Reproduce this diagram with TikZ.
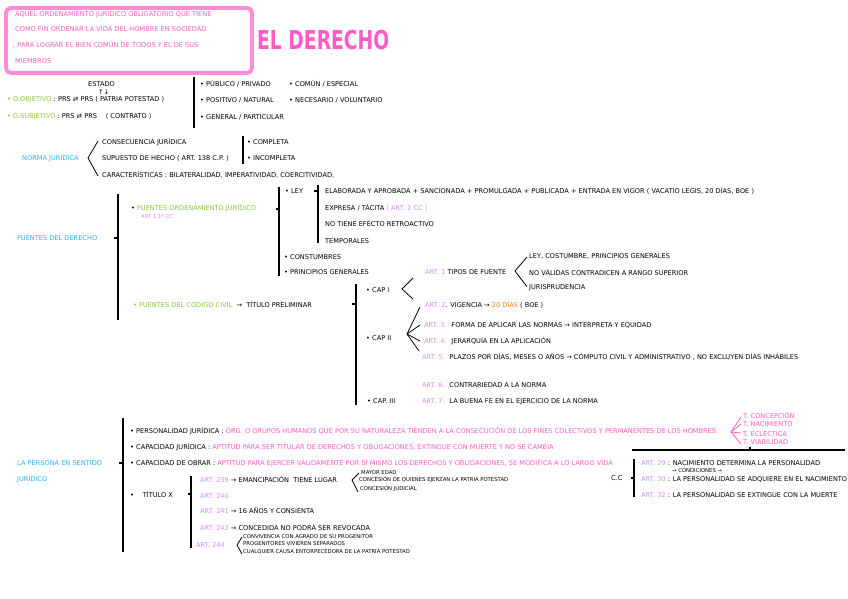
\documentclass[tikz,border=0pt]{standalone}
\usepackage{fontspec}
\setmainfont{DejaVu Sans}
\usepackage{graphicx}
\definecolor{pk}{HTML}{FF5CC8}
\definecolor{pkbox}{HTML}{FF8ED4}
\definecolor{gr}{HTML}{8CC63F}
\definecolor{cy}{HTML}{2BB5F0}
\definecolor{vi}{HTML}{D88CF2}
\definecolor{orng}{HTML}{FF7A21}
\newcommand\myfs{\fontsize{6.6}{7.5}\selectfont}
\newcommand\mysm{\fontsize{5.3}{6}\selectfont}
\begin{document}
\begin{tikzpicture}[x=1pt,y=-1pt,
  txt/.style={anchor=west,inner sep=0pt,font=\myfs},
  smt/.style={anchor=west,inner sep=0pt,font=\mysm},
  bar/.style={line width=1.1pt},
  brc/.style={line width=0.8pt},
  tck/.style={line width=1.4pt}]
\useasboundingbox (0,0) rectangle (848,599);
\fill[white] (0,0) rectangle (848,599);

% definition box
\node[draw=pkbox, line width=4pt, rounded corners=5pt, minimum width=246pt, minimum height=65pt, anchor=north west, inner sep=0pt] (box) at (4,6) {};
\node[txt,text=pk] (d1) at (15,14) {AQUEL ORDENAMIENTO JURÍDICO OBLIGATORIO QUE TIENE};
\node[txt,text=pk] (d2) at (15,29) {COMO FIN ORDENAR LA VIDA DEL HOMBRE EN SOCIEDAD};
\node[txt,text=pk] (d3) at (13,45) {, PARA LOGRAR EL BIEN COMÚN DE TODOS Y EL DE SUS};
\node[txt,text=pk] (d4) at (15,61) {MIEMBROS};

\node[anchor=west,inner sep=0pt,text=pk,font=\fontsize{26}{26}\selectfont\bfseries] (title) at (257,40) {\scalebox{0.72}[1]{EL DERECHO}};

% objetivo / subjetivo
\node[txt] (estado) at (88,84) {ESTADO};
\node[txt] (updn) at (98,92) {↑↓};
\node[txt] (obj) at (7,100) {\textcolor{gr}{• O.OBJETIVO} : PRS ⇄ PRS ( PATRIA POTESTAD )};
\node[txt] (subj) at (7,117) {\textcolor{gr}{• O.SUBJETIVO} : PRS ⇄ PRS \quad ( CONTRATO )};
\coordinate (v1t) at (194,77); \coordinate (v1b) at (194,128);
\draw[bar] (v1t) -- (v1b);
\node[txt] (pub) at (200,84) {• PÚBLICO / PRIVADO};
\node[txt] (pos) at (200,100) {• POSITIVO / NATURAL};
\node[txt] (gen) at (200,117) {• GENERAL / PARTICULAR};
\node[txt] (com) at (289,84) {• COMÚN / ESPECIAL};
\node[txt] (nec) at (289,100) {• NECESARIO / VOLUNTARIO};

% norma juridica
\node[txt,text=cy] (norma) at (22,158) {NORMA JURÍDICA};
\node[txt] (cons) at (102,142) {CONSECUENCIA JURÍDICA};
\node[txt] (sup) at (102,158) {SUPUESTO DE HECHO ( ART. 138 C.P. )};
\node[txt] (car) at (102,175) {CARACTERÍSTICAS : BILATERALIDAD, IMPERATIVIDAD, COERCITIVIDAD,};
\coordinate (nb) at (88,158);
\draw[brc] ([xshift=-4pt,yshift=1pt]cons.west) -- (nb) -- ([xshift=-4pt,yshift=-1pt]car.west);
\coordinate (v2t) at (243,136); \coordinate (v2b) at (243,164);
\draw[bar] (v2t) -- (v2b);
\node[txt] (compl) at (247,142) {• COMPLETA};
\node[txt] (incompl) at (247,158) {• INCOMPLETA};

% fuentes del derecho
\node[txt,text=cy] (fuentes) at (17,238) {FUENTES DEL DERECHO};
\coordinate (v3t) at (118,194); \coordinate (v3b) at (118,320); \coordinate (v3m) at (118,238);
\draw[bar] (v3t) -- (v3b);
\draw[tck] ([xshift=-4pt]v3m) -- (v3m);
\node[txt] (foj) at (131,208) {• \textcolor{gr}{FUENTES ORDENAMIENTO JURÍDICO}};
\node[smt,text=vi] (art11) at (141,217) {ART 1.1º CC};
\coordinate (v4t) at (279,187); \coordinate (v4b) at (279,276); \coordinate (v4m) at (279,209);
\draw[bar] (v4t) -- (v4b);
\draw[tck] ([xshift=-3pt]v4m) -- (v4m);
\node[txt] (ley) at (285,191) {• LEY};
\coordinate (v5t) at (318,185); \coordinate (v5b) at (318,243); \coordinate (v5m) at (318,191);
\draw[bar] (v5t) -- (v5b);
\draw[tck] ([xshift=-4pt]v5m) -- (v5m);
\node[txt] (ela) at (325,191) {ELABORADA Y APROBADA + SANCIONADA + PROMULGADA + PUBLICADA + ENTRADA EN VIGOR ( VACATIO LEGIS, 20 DÍAS, BOE )};
\node[txt] (exp) at (325,208) {EXPRESA / TÁCITA \textcolor{vi}{( ART. 2 CC )}};
\node[txt] (ret) at (325,224) {NO TIENE EFECTO RETROACTIVO};
\node[txt] (temp) at (325,241) {TEMPORALES};
\node[txt] (cost) at (284,257) {• CONSTUMBRES};
\node[txt] (pg) at (284,272) {• PRINCIPIOS GENERALES};

\node[txt] (fcc) at (133,304) {\textcolor{gr}{• FUENTES DEL CÓDIGO CIVIL} \ → \ TÍTULO PRELIMINAR};
\coordinate (v6t) at (356,284); \coordinate (v6b) at (356,405); \coordinate (v6m) at (356,304);
\draw[bar] (v6t) -- (v6b);
\draw[tck] ([xshift=-4pt]v6m) -- (v6m);
\node[txt] (cap1) at (366,290) {• CAP I};
\coordinate (c1a) at (402,289);
\draw[brc] (413,278) -- (c1a) -- (413,299);
\node[txt] (art1) at (425,272) {\textcolor{vi}{ART. 1} TIPOS DE FUENTE};
\coordinate (a1x) at (515,271);
\node[txt] (a1a) at (529,256) {LEY, COSTUMBRE, PRINCIPIOS GENERALES};
\node[txt] (a1b) at (529,272) {NO VÁLIDAS CONTRADICEN A RANGO SUPERIOR};
\node[txt] (a1c) at (529,288) {JURISPRUDENCIA};
\draw[brc] ([xshift=-2pt,yshift=2pt]a1a.south west) -- (a1x) -- ([xshift=-2pt,yshift=-2pt]a1c.north west);
\node[txt] (art2) at (425,305) {\textcolor{vi}{ART. 2}. VIGENCIA → \textcolor{orng}{20 DÍAS} ( BOE )};

\node[txt] (cap2) at (366,338) {• CAP II};
\coordinate (c2a) at (407,334);
\node[txt] (art3) at (424,325) {\textcolor{vi}{ART. 3.} \ FORMA DE APLICAR LAS NORMAS → INTERPRETA Y EQUIDAD};
\node[txt] (art4) at (424,341) {\textcolor{vi}{ART. 4.} \ JERARQUÍA EN LA APLICACIÓN};
\node[txt] (art5) at (422,357) {\textcolor{vi}{ART. 5.} \ PLAZOS POR DÍAS, MESES O AÑOS → CÓMPUTO CIVIL Y ADMINISTRATIVO , NO EXCLUYEN DÍAS INHÁBILES};
\draw[brc] (c2a) -- (420,307);
\draw[brc] (c2a) -- ([xshift=-4pt]art3.west);
\draw[brc] (c2a) -- ([xshift=-4pt]art4.west);
\draw[brc] (c2a) -- (419,351);
\node[txt] (art6) at (422,385) {\textcolor{vi}{ART. 6.} \ CONTRARIEDAD A LA NORMA};
\node[txt] (cap3) at (367,401) {• CAP. III};
\node[txt] (art7) at (422,402) {\textcolor{vi}{ART. 7.} \ LA BUENA FE EN EL EJERCICIO DE LA NORMA};

% persona
\node[txt,text=cy] (persona) at (17,463) {LA PERSONA EN SENTIDO};
\node[txt,text=cy] (jur) at (17,479) {JURÍDICO};
\coordinate (v7t) at (123,418); \coordinate (v7b) at (123,552); \coordinate (v7m) at (123,463);
\draw[bar] (v7t) -- (v7b);
\draw[tck] ([xshift=-4pt]v7m) -- (v7m);
\node[txt] (pj) at (130,431) {• PERSONALIDAD JURÍDICA : \textcolor{pk}{ORG. O GRUPOS HUMANOS QUE POR SU NATURALEZA TIENDEN A LA CONSECUCIÓN DE LOS FINES COLECTIVOS Y PERMANENTES DE LOS HOMBRES}};
\coordinate (pja) at (731,432);
\node[txt,text=pk] (tc) at (743,415) {T. CONCEPCIÓN};
\node[txt,text=pk] (tn) at (743,424) {T. NACIMIENTO};
\node[txt,text=pk] (te) at (743,433) {T. ECLÉCTICA};
\node[txt,text=pk] (tv) at (743,442) {T. VIABILIDAD};
\draw[brc,pk] (741,417) -- (pja) -- (741,444);
\draw[brc,pk] (pja) -- ([xshift=-2pt]tn.west);
\draw[brc,pk] (pja) -- ([xshift=-2pt]te.west);
\node[txt] (cj) at (130,447) {• CAPACIDAD JURÍDICA : \textcolor{pk}{APTITUD PARA SER TITULAR DE DERECHOS Y OBLIGACIONES, EXTINGUE CON MUERTE Y NO SE CAMBIA}};
\node[txt] (co) at (130,463) {• CAPACIDAD DE OBRAR : \textcolor{pk}{APTITUD PARA EJERCER VÁLIDAMENTE POR SÍ MISMO LOS DERECHOS Y OBLIGACIONES, SE MODIFICA A LO LARGO VIDA}};

\coordinate (hl) at (632,450); \coordinate (hr) at (845,450); \coordinate (hm) at (750,450);
\draw[bar] (hl) -- (hr);
\draw[tck] (hm) -- ([yshift=3pt]hm);
\coordinate (v8t) at (634,459); \coordinate (v8b) at (634,497); \coordinate (v8m) at (634,478);
\draw[bar] (v8t) -- (v8b);
\draw[tck] ([xshift=-3pt]v8m) -- (v8m);
\node[txt] (cc) at (611,478) {C.C};
\node[txt] (a29) at (641,463) {\textcolor{vi}{ART. 29} : NACIMIENTO DETERMINA LA PERSONALIDAD};
\node[smt] (cond) at (672,471) {→ CONDICIONES →};
\node[txt] (a30) at (641,479) {\textcolor{vi}{ART. 30} : LA PERSONALIDAD SE ADQUIERE EN EL NACIMIENTO};
\node[txt] (a32) at (641,495) {\textcolor{vi}{ART. 32} : LA PERSONALIDAD SE EXTINGUE CON LA MUERTE};

% titulo X
\node[txt] (tx) at (130,494) {• \quad TÍTULO X};
\coordinate (v9t) at (191,476); \coordinate (v9b) at (191,548); \coordinate (v9m) at (191,494);
\draw[bar] (v9t) -- (v9b);
\draw[tck] ([xshift=-3pt]v9m) -- (v9m);
\node[txt] (a239) at (200,479) {\textcolor{vi}{ART. 239} → EMANCIPACIÓN \ TIENE LUGAR};
\coordinate (ea) at (352,480);
\node[smt] (me) at (361,473) {MAYOR EDAD};
\node[smt] (cq) at (359,480) {CONCESIÓN DE QUIENES EJERZAN LA PATRIA POTESTAD};
\node[smt] (cjd) at (360,489) {CONCESIÓN JUDICIAL};
\draw[brc] ([xshift=-2pt]me.west) -- (ea) -- ([xshift=-2pt,yshift=-3pt]cjd.west);
\node[txt,text=vi] (a240) at (200,496) {ART. 240};
\node[txt] (a241) at (200,511) {\textcolor{vi}{ART. 241} → 16 AÑOS Y CONSIENTA};
\node[txt] (a242) at (200,527) {\textcolor{vi}{ART. 242} → CONCEDIDA NO PODRÁ SER REVOCADA};
\node[txt,text=vi] (a244) at (196,545) {ART. 244};
\coordinate (pa) at (237,545);
\node[smt] (p1) at (243,537) {CONVIVENCIA CON AGRADO DE SU PROGENITOR};
\node[smt] (p2) at (243,544) {PROGENITORES VIVIEREN SEPARADOS};
\node[smt] (p3) at (243,552) {CUALQUIER CAUSA ENTORPECEDORA DE LA PATRIA POTESTAD};
\draw[brc] ([xshift=-1pt]p1.west) -- (pa) -- ([xshift=-1pt,yshift=-2pt]p3.west);
\end{tikzpicture}
\end{document}
